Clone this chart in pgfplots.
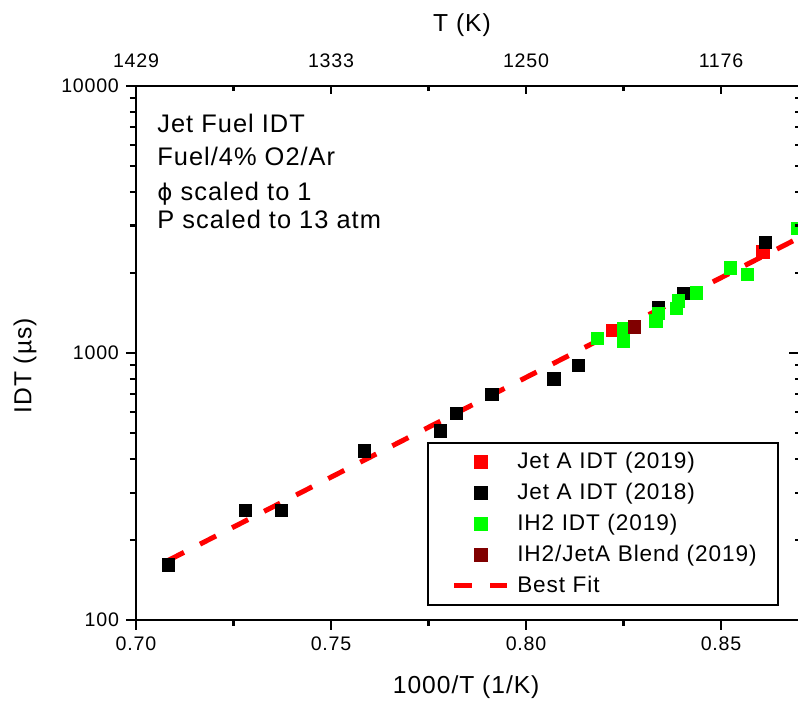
\documentclass[border=0pt]{standalone}
\usepackage{fontspec}
\setmainfont{Liberation Sans}[LetterSpace=4]
\newfontfamily\phifont{DejaVu Sans}
\usepackage{pgfplots}
\pgfplotsset{compat=1.18}

\definecolor{ptred}{RGB}{255,0,0}
\definecolor{ptgreen}{RGB}{0,255,0}
\definecolor{ptdark}{RGB}{128,0,0}

\pgfplotsset{
  idtmark/.style={only marks, mark=square*, mark size=3.1pt, line width=0.3pt},
  % legend key holding a single filled square
  idtkey/.style={legend image code/.code={%
    \path[draw=none] (-5pt,0pt) -- (31.5pt,0pt);
    \path[draw=#1, fill=#1, line width=0.3pt, /tikz/only marks, mark=square*, mark size=3.1pt,
      mark options={draw=#1, fill=#1, line width=0.3pt}] plot coordinates {(13.25pt,0pt)};}},
}

\begin{document}
\begin{tikzpicture}
\begin{axis}[name=main,
  scale only axis, width=331.5pt, height=267pt,
  xmin=0.70, xmax=0.87, ymin=100, ymax=10000, ymode=log,
  /pgf/number format/assume math mode=true,
  tick label style={font=\fontsize{9.8}{11}\selectfont},
  every tick/.style={black, line width=1.1pt},
  axis line style={line width=1.3pt},
  xtick={0.70,0.75,0.80,0.85}, xticklabels={0.70,0.75,0.80,0.85},
  minor x tick num=1,
  ytick={100,1000,10000}, yticklabels={100,1000,10000},
  xtick pos=left, ytick pos=left, tick align=outside,
  major tick length=5pt, minor tick length=3pt,
  xlabel={1000/T (1/K)}, ylabel={IDT (µs)},
  label style={font=\fontsize{12.3}{14}\selectfont},
  xlabel style={at={(axis description cs:0.498,-0.1255)}, anchor=center},
  ylabel style={at={(axis description cs:-0.1674,0.476)}, anchor=center},
  legend image code/.code={%
    \path[draw=none] (-5pt,0pt) -- (31.5pt,0pt);
    \draw[#1] plot coordinates {(0pt,0pt) (26.5pt,0pt)};},
  legend cell align=left,
  legend style={at={(0.439,0.026)}, anchor=south west, draw=black,
    line width=1.2pt, inner xsep=8pt, inner ysep=1.75pt, row sep=0pt,
    font=\fontsize{11.3}{13}\selectfont,
    nodes={inner sep=0pt, minimum height=15.5pt, text width=122.5pt, align=left}},
]
\addlegendimage{idtkey=ptred}
\addlegendentry{Jet A IDT (2019)}
\addlegendimage{idtkey=black}
\addlegendentry{Jet A IDT (2018)}
\addlegendimage{idtkey=ptgreen}
\addlegendentry{IH2 IDT (2019)}
\addlegendimage{idtkey=ptdark}
\addlegendentry{IH2/JetA Blend (2019)}
\addlegendimage{ptred, line width=2.5pt, dash pattern=on 9pt off 9pt}
\addlegendentry{Best Fit}

% Jet A, 2019 campaign
\addplot[idtmark, ptred, forget plot] coordinates {
  (0.8222,1219) (0.8607,2393)
};
% Jet A, 2018 campaign
\addplot[idtmark, black, forget plot] coordinates {
  (0.7083,161) (0.7280,258) (0.7372,258) (0.7586,430) (0.7781,512)
  (0.7822,594) (0.7912,700) (0.8071,800) (0.8134,901) (0.8339,1483)
  (0.8403,1675) (0.8613,2600)
};
% Arrhenius fit
\addplot[ptred, line width=2.5pt, dash pattern=on 9pt off 9pt, forget plot] coordinates {
  (0.7082,167) (0.8700,2700)
};
% IH2, 2019 campaign
\addplot[idtmark, ptgreen, forget plot] coordinates {
  (0.8183,1135) (0.8249,1230) (0.8249,1109) (0.8333,1321) (0.8339,1409)
  (0.8385,1469) (0.8390,1570) (0.8437,1683) (0.8524,2088) (0.8568,1972)
  (0.8696,2930)
};
% IH2 / Jet A blend
\addplot[idtmark, ptdark, forget plot] coordinates {
  (0.8277,1255)
};

\node[anchor=base west, inner sep=0pt, font=\fontsize{12.7}{15}\selectfont] at (rel axis cs:0.0317,0.912) {Jet Fuel IDT};
\node[anchor=base west, inner sep=0pt, font=\fontsize{12.7}{15}\selectfont] at (rel axis cs:0.0317,0.852) {Fuel/4\% O2/Ar};
\node[anchor=base west, inner sep=0pt, font=\fontsize{12.7}{15}\selectfont] at (rel axis cs:0.0317,0.7865) {{\phifont\fontsize{11.5}{13}\selectfont ϕ} scaled to 1};
\node[anchor=base west, inner sep=0pt, font=\fontsize{12.7}{15}\selectfont] at (rel axis cs:0.0317,0.734) {P scaled to 13 atm};
\end{axis}

% temperature scale along the top
\begin{axis}[
  scale only axis, width=331.5pt, height=267pt,
  xmin=0.70, xmax=0.87, ymin=100, ymax=10000, ymode=log,
  /pgf/number format/assume math mode=true,
  tick label style={font=\fontsize{9.8}{11}\selectfont},
  every tick/.style={black, line width=1.1pt},
  axis line style={line width=1.3pt},
  axis x line*=top, axis y line=none,
  xtick={0.70,0.75,0.80,0.85}, xticklabels={1429,1333,1250,1176},
  minor x tick num=1, tick align=inside,
  major tick length=4pt, minor tick length=2.3pt,
  xticklabel shift=5.7pt,
  xlabel={T (K)},
  xlabel style={font=\fontsize{12.3}{14}\selectfont,
    at={(axis description cs:0.4917,1.1142)}, anchor=center},
]
\end{axis}

% inward ticks on the right edge
\begin{axis}[
  scale only axis, width=331.5pt, height=267pt,
  xmin=0.70, xmax=0.87, ymin=100, ymax=10000, ymode=log,
  every tick/.style={black, line width=1.1pt},
  axis line style={line width=1.3pt},
  axis y line*=right, axis x line=none,
  ytick={100,1000,10000}, yticklabels={},
  tick align=inside, major tick length=5pt, minor tick length=2.2pt,
]
\end{axis}

\pgfresetboundingbox
\useasboundingbox ([xshift=-68pt,yshift=-41.5pt]main.south west)
  rectangle ([xshift=-0.5pt,yshift=43pt]main.north east);
\end{tikzpicture}
\end{document}
